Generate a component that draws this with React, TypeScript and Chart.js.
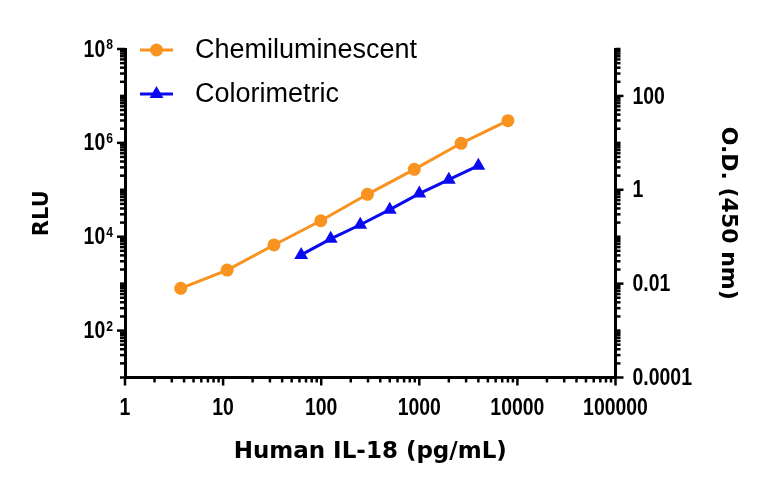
import { useEffect, useRef } from "react";
import { Chart, registerables } from "chart.js";

Chart.register(...registerables);

// IL-18 standard curves
const chemiDose = [3.7, 11, 33, 99, 296, 889, 2667, 8000];
const chemiRLU = [795, 1950, 6670, 21900, 80100, 273000, 979000, 2970000];
const colorDose = [62.5, 125, 250, 500, 1000, 2000, 4000];
const colorOD = [0.041, 0.09, 0.18, 0.377, 0.83, 1.64, 3.26];

const seriesNames = ["Chemiluminescent", "Colorimetric"];
const seriesColors = ["#F7931E", "#0A0AF0"];

const xTickValues = [1, 10, 100, 1000, 10000, 100000];
const xTickLabels = ["1", "10", "100", "1000", "10000", "100000"];
const rluTickExponents = [2, 4, 6, 8];
const odTickValues = [0.0001, 0.01, 1, 100];
const odTickLabels = ["0.0001", "0.01", "1", "100"];

const TICK_FONT = "'Liberation Sans', Arial, sans-serif";
const TITLE_FONT = "'DejaVu Sans', Arial, sans-serif";
const LEGEND_FONT = "'Liberation Sans', Arial, sans-serif";
const NARROW = 0.81; // squeeze Liberation Sans Bold to look like Arial Narrow

const same = (a: number, b: number) => Math.abs(Math.log10(a) - Math.log10(b)) < 1e-6;

// 1..9 x 10^e for every decade, plus the last decade
const logTicks = (fromExp: number, toExp: number) => {
  const out: { value: number }[] = [];
  for (let e = fromExp; e < toExp; e++) {
    for (let m = 1; m <= 9; m++) out.push({ value: Number((m * Math.pow(10, e)).toPrecision(6)) });
  }
  out.push({ value: Math.pow(10, toExp) });
  return out;
};

const narrowText = (ctx: CanvasRenderingContext2D, text: string, x: number, y: number, align: CanvasTextAlign) => {
  ctx.save();
  ctx.translate(x, y);
  ctx.scale(NARROW, 1);
  ctx.textAlign = align;
  ctx.fillText(text, 0, 0);
  ctx.restore();
};

const prismTicks = {
  id: "prismTicks",
  afterDraw(chart: any) {
    const { ctx } = chart;
    const majors: Record<string, number[]> = {
      x: xTickValues,
      yL: rluTickExponents.map((e) => Math.pow(10, e)),
      yR: odTickValues,
    };
    ctx.save();
    ctx.strokeStyle = "#000";
    ctx.lineWidth = 2.5;
    for (const id of ["x", "yL", "yR"]) {
      const scale = chart.scales[id];
      scale.ticks.forEach((t: any) => {
        const len = majors[id].some((v) => same(v, t.value)) ? 8 : 5;
        const p = scale.getPixelForValue(t.value);
        ctx.beginPath();
        if (id === "x") {
          ctx.moveTo(p, scale.top);
          ctx.lineTo(p, scale.top + len);
        } else if (id === "yL") {
          ctx.moveTo(scale.right, p);
          ctx.lineTo(scale.right - len, p);
        } else {
          ctx.moveTo(scale.left, p);
          ctx.lineTo(scale.left + len, p);
        }
        ctx.stroke();
      });
    }

    ctx.fillStyle = "#000";
    ctx.textBaseline = "middle";
    const main = `bold 24px ${TICK_FONT}`;

    // x axis labels
    const x = chart.scales.x;
    ctx.font = main;
    xTickValues.forEach((v, i) => {
      narrowText(ctx, xTickLabels[i], x.getPixelForValue(v), x.top + 31, "center");
    });

    // O.D. axis labels
    const yR = chart.scales.yR;
    odTickValues.forEach((v, i) => {
      narrowText(ctx, odTickLabels[i], yR.left + 17, yR.getPixelForValue(v) + 1, "left");
    });

    // 10^n labels on the RLU axis
    const yL = chart.scales.yL;
    rluTickExponents.forEach((e) => {
      const y = yL.getPixelForValue(Math.pow(10, e));
      const right = yL.right - 12;
      ctx.font = `bold 15px ${TICK_FONT}`;
      const sw = ctx.measureText(String(e)).width * NARROW;
      narrowText(ctx, String(e), right, y - 4, "right");
      ctx.font = main;
      narrowText(ctx, "10", right - sw - 1, y + 1, "right");
    });
    ctx.restore();
  },
};

const insideLegend = {
  id: "insideLegend",
  afterDraw(chart: any) {
    const { ctx } = chart;
    ctx.save();
    chart.data.datasets.forEach((ds: any, i: number) => {
      const y = 50 + i * 44;
      const x0 = 140;
      const x1 = 173;
      const cx = (x0 + x1) / 2;
      ctx.strokeStyle = ds.borderColor;
      ctx.fillStyle = ds.borderColor;
      ctx.lineWidth = 3;
      ctx.beginPath();
      ctx.moveTo(x0, y);
      ctx.lineTo(x1, y);
      ctx.stroke();
      ctx.beginPath();
      if (ds.pointStyle === "triangle") {
        const r = ds.pointRadius;
        ctx.moveTo(cx, y - r);
        ctx.lineTo(cx + r * Math.sin((2 * Math.PI) / 3), y + r / 2);
        ctx.lineTo(cx - r * Math.sin((2 * Math.PI) / 3), y + r / 2);
        ctx.closePath();
      } else {
        ctx.arc(cx, y, ds.pointRadius, 0, Math.PI * 2);
      }
      ctx.fill();
      ctx.fillStyle = "#000";
      ctx.font = `27px ${LEGEND_FONT}`;
      ctx.textAlign = "left";
      ctx.textBaseline = "middle";
      ctx.fillText(ds.label, 195, y + 1);
    });
    ctx.restore();
  },
};

const axisBorder = { display: true, color: "#000", width: 3 };
const noGrid = { display: false, drawTicks: false };

export default function App() {
  const canvasRef = useRef<HTMLCanvasElement | null>(null);

  useEffect(() => {
    if (!canvasRef.current) return;
    const chart = new Chart(canvasRef.current, {
      type: "line",
      data: {
        datasets: [
          {
            label: seriesNames[0],
            data: chemiDose.map((x, i) => ({ x, y: chemiRLU[i] })),
            yAxisID: "yL",
            borderColor: seriesColors[0],
            backgroundColor: seriesColors[0],
            borderWidth: 3,
            pointStyle: "circle",
            pointRadius: 6.5,
            pointBorderWidth: 0,
          },
          {
            label: seriesNames[1],
            data: colorDose.map((x, i) => ({ x, y: colorOD[i] })),
            yAxisID: "yR",
            borderColor: seriesColors[1],
            backgroundColor: seriesColors[1],
            borderWidth: 3,
            pointStyle: "triangle",
            pointRadius: 8,
            pointBorderWidth: 0,
          },
        ],
      },
      options: {
        responsive: true,
        maintainAspectRatio: false,
        animation: false,
        layout: { padding: { top: 49, left: 0, right: 0, bottom: 0 } },
        plugins: { legend: { display: false }, tooltip: { enabled: false } },
        scales: {
          x: {
            type: "logarithmic",
            position: "bottom",
            min: 1,
            max: 100000,
            afterBuildTicks: (s: any) => {
              s.ticks = logTicks(0, 5);
            },
            afterFit: (s: any) => {
              s.height = 111.5;
            },
            grid: noGrid,
            border: axisBorder,
            ticks: { display: false, autoSkip: false },
            title: {
              display: true,
              text: "Human IL-18 (pg/mL)",
              color: "#000",
              font: { family: TITLE_FONT, size: 23, weight: "bold" },
              padding: { top: 0, bottom: 23 },
            },
          },
          yL: {
            type: "logarithmic",
            position: "left",
            min: 10,
            max: 100000000,
            afterBuildTicks: (s: any) => {
              s.ticks = logTicks(1, 8);
            },
            afterFit: (s: any) => {
              s.width = 125;
            },
            grid: noGrid,
            border: axisBorder,
            ticks: { display: false, autoSkip: false },
            title: {
              display: true,
              text: "RLU",
              color: "#000",
              font: { family: TITLE_FONT, size: 21, weight: "bold" },
              padding: { top: 30, bottom: 0 },
            },
          },
          yR: {
            type: "logarithmic",
            position: "right",
            min: 0.0001,
            max: 1000,
            afterBuildTicks: (s: any) => {
              s.ticks = logTicks(-4, 3);
            },
            afterFit: (s: any) => {
              s.width = 152.5;
            },
            grid: noGrid,
            border: axisBorder,
            ticks: { display: false, autoSkip: false },
            title: {
              display: true,
              text: "O.D. (450 nm)",
              color: "#000",
              font: { family: TITLE_FONT, size: 22, weight: "bold" },
              padding: { top: 27, bottom: 0 },
            },
          },
        },
      },
      plugins: [prismTicks, insideLegend],
    });
    return () => chart.destroy();
  }, []);

  return (
    <div style={{ position: "fixed", left: 0, top: 0, width: 768, height: 489, background: "#fff" }}>
      <canvas ref={canvasRef} />
    </div>
  );
}
